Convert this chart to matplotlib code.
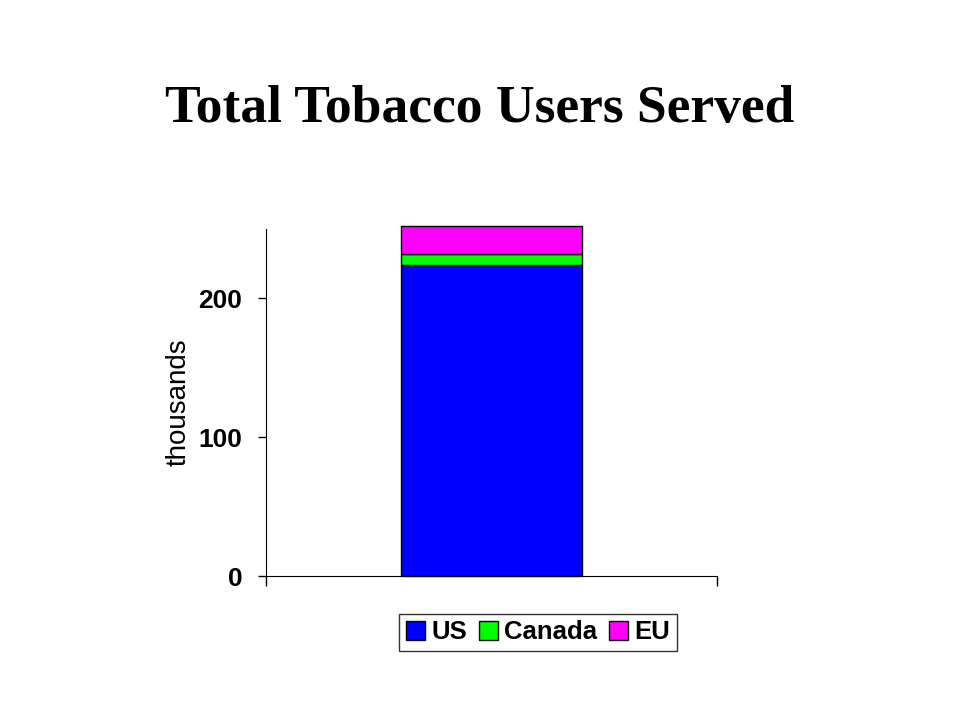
import matplotlib
matplotlib.use("Agg")
import matplotlib.pyplot as plt
from matplotlib.patches import Patch

# data (thousands)
categories = [""]
regions = ["US", "Canada", "EU"]
us = [224]
canada = [8]
eu = [20]
colors = ["#0000ff", "#00ff00", "#ff00ff"]

fig = plt.figure(figsize=(9.6, 7.2), dpi=100)
ax = fig.add_axes([0.277, 0.2, 0.47, 0.482])

x = list(range(len(categories)))
bottom = [0] * len(categories)
for vals, c in zip([us, canada, eu], colors):
    ax.bar(x, vals, width=0.4, bottom=bottom, color=c, edgecolor="black",
           linewidth=1, clip_on=False, zorder=3)
    bottom = [b + v for b, v in zip(bottom, vals)]

ax.set_xlim(-0.5, 0.5)
ax.set_ylim(0, 250)
ax.set_yticks([0, 100, 200])
ax.set_yticklabels(["0", "100", "200"], fontfamily="Liberation Sans",
                   fontweight="bold", fontsize=19)
ax.set_xticks([-0.5, 0.5])
ax.set_xticklabels(["", ""])
ax.tick_params(axis="y", length=6, width=1, pad=11)
ax.tick_params(axis="x", length=7, width=1, direction="out")
ax.spines["top"].set_visible(False)
ax.spines["right"].set_visible(False)
ax.set_ylabel("thousands", fontfamily="Liberation Sans", fontsize=20, labelpad=5)

fig.text(0.5, 0.849, "Total Tobacco Users Served", ha="center", va="center",
         fontfamily="Liberation Serif", fontweight="bold", fontsize=38.5)

handles = [Patch(facecolor=c, edgecolor="black", label=r) for c, r in zip(colors, regions)]
leg = fig.legend(handles=handles, loc="center", bbox_to_anchor=(0.5604, 0.122),
                 ncol=3, frameon=True, fancybox=False, edgecolor="black",
                 prop={"family": "Liberation Sans", "weight": "bold", "size": 18.5},
                 handlelength=0.75, handleheight=0.75, handletextpad=0.25,
                 columnspacing=0.45, borderpad=0.25, borderaxespad=0)
leg.get_frame().set_linewidth(1)

fig.savefig("out.png", dpi=100)
